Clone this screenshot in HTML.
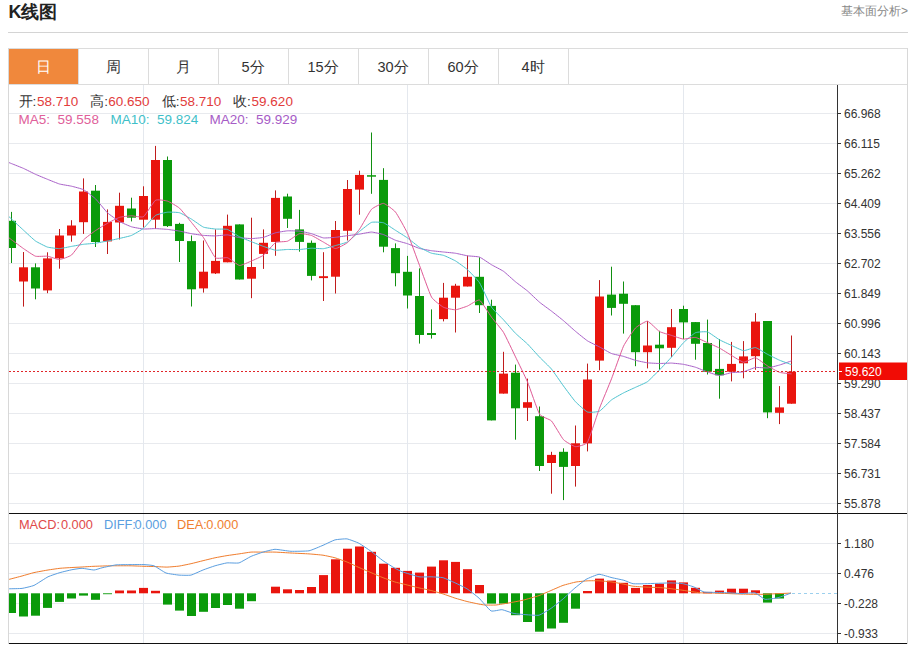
<!DOCTYPE html>
<html><head><meta charset="utf-8"><style>
html,body{margin:0;padding:0;background:#fff;}
body{width:912px;height:646px;overflow:hidden;position:relative;font-family:"Liberation Sans",sans-serif;}
svg{position:absolute;left:0;top:0;}
text{font-family:"Liberation Sans",sans-serif;}
.ax{font-family:"Liberation Sans",sans-serif;font-size:12px;fill:#333;}
.t{position:absolute;white-space:nowrap;}
#title{left:8.5px;top:0.3px;font-size:18px;font-weight:bold;color:#222;}
#more{right:4px;top:3px;font-size:12px;color:#888;}
.tab{position:absolute;top:49.5px;height:35px;width:70px;line-height:35px;text-align:center;font-size:14.5px;color:#333;}
#info1{left:19px;top:92px;font-size:13px;color:#333;}
#info2{left:19px;top:110px;font-size:13px;}
#macdl{left:19px;top:516px;font-size:12.5px;}
.r{color:#e23a3a}
</style></head><body>
<svg width="912" height="646" viewBox="0 0 912 646" shape-rendering="auto">
<line x1="8" y1="32.5" x2="908" y2="32.5" stroke="#d4d4d4" stroke-width="1"/>
<rect x="9" y="49" width="69" height="35" fill="#f0883c"/>
<line x1="8" y1="48.5" x2="908" y2="48.5" stroke="#dcdcdc"/>
<line x1="78.5" y1="49" x2="78.5" y2="84" stroke="#dcdcdc"/>
<line x1="148.5" y1="49" x2="148.5" y2="84" stroke="#dcdcdc"/>
<line x1="218.5" y1="49" x2="218.5" y2="84" stroke="#dcdcdc"/>
<line x1="288.5" y1="49" x2="288.5" y2="84" stroke="#dcdcdc"/>
<line x1="358.5" y1="49" x2="358.5" y2="84" stroke="#dcdcdc"/>
<line x1="428.5" y1="49" x2="428.5" y2="84" stroke="#dcdcdc"/>
<line x1="498.5" y1="49" x2="498.5" y2="84" stroke="#dcdcdc"/>
<line x1="568.5" y1="49" x2="568.5" y2="84" stroke="#dcdcdc"/>
<line x1="8" y1="84.5" x2="908" y2="84.5" stroke="#dcdcdc"/>
<line x1="8.5" y1="48" x2="8.5" y2="644" stroke="#d8d8d8"/>
<line x1="907.5" y1="48" x2="907.5" y2="644" stroke="#d8d8d8"/>
<line x1="9" y1="113.5" x2="837" y2="113.5" stroke="#e8eaee"/>
<line x1="9" y1="143.5" x2="837" y2="143.5" stroke="#e8eaee"/>
<line x1="9" y1="173.5" x2="837" y2="173.5" stroke="#e8eaee"/>
<line x1="9" y1="203.5" x2="837" y2="203.5" stroke="#e8eaee"/>
<line x1="9" y1="233.5" x2="837" y2="233.5" stroke="#e8eaee"/>
<line x1="9" y1="263.5" x2="837" y2="263.5" stroke="#e8eaee"/>
<line x1="9" y1="293.5" x2="837" y2="293.5" stroke="#e8eaee"/>
<line x1="9" y1="323.5" x2="837" y2="323.5" stroke="#e8eaee"/>
<line x1="9" y1="353.5" x2="837" y2="353.5" stroke="#e8eaee"/>
<line x1="9" y1="383.5" x2="837" y2="383.5" stroke="#e8eaee"/>
<line x1="9" y1="413.5" x2="837" y2="413.5" stroke="#e8eaee"/>
<line x1="9" y1="443.5" x2="837" y2="443.5" stroke="#e8eaee"/>
<line x1="9" y1="473.5" x2="837" y2="473.5" stroke="#e8eaee"/>
<line x1="9" y1="503.5" x2="837" y2="503.5" stroke="#e8eaee"/>
<line x1="9" y1="543.5" x2="837" y2="543.5" stroke="#e8eaee"/>
<line x1="9" y1="573.5" x2="837" y2="573.5" stroke="#e8eaee"/>
<line x1="9" y1="603.5" x2="837" y2="603.5" stroke="#e8eaee"/>
<line x1="9" y1="633.5" x2="837" y2="633.5" stroke="#e8eaee"/>
<line x1="143.5" y1="85" x2="143.5" y2="643" stroke="#e4e8ee"/>
<line x1="407.5" y1="85" x2="407.5" y2="643" stroke="#e4e8ee"/>
<line x1="683.5" y1="85" x2="683.5" y2="643" stroke="#e4e8ee"/>
<defs><clipPath id="cm"><rect x="9" y="85" width="828" height="428"/></clipPath><clipPath id="cd"><rect x="9" y="514" width="828" height="129"/></clipPath></defs>
<g clip-path="url(#cm)">
<line x1="11.5" y1="211.9" x2="11.5" y2="263.0" stroke="#118f11" stroke-width="1"/>
<rect x="7.0" y="220.8" width="9" height="27.2" fill="#0a9a0a"/>
<line x1="23.5" y1="252.0" x2="23.5" y2="306.6" stroke="#c01c1c" stroke-width="1"/>
<rect x="19.0" y="267.3" width="9" height="14.2" fill="#e9150e"/>
<line x1="35.5" y1="263.4" x2="35.5" y2="299.3" stroke="#118f11" stroke-width="1"/>
<rect x="31.0" y="267.3" width="9" height="21.2" fill="#0a9a0a"/>
<line x1="47.5" y1="252.3" x2="47.5" y2="293.2" stroke="#c01c1c" stroke-width="1"/>
<rect x="43.0" y="258.4" width="9" height="32.0" fill="#e9150e"/>
<line x1="59.5" y1="229.0" x2="59.5" y2="268.7" stroke="#c01c1c" stroke-width="1"/>
<rect x="55.0" y="235.5" width="9" height="22.9" fill="#e9150e"/>
<line x1="71.5" y1="220.2" x2="71.5" y2="241.7" stroke="#c01c1c" stroke-width="1"/>
<rect x="67.0" y="225.5" width="9" height="10.0" fill="#e9150e"/>
<line x1="83.5" y1="178.4" x2="83.5" y2="233.9" stroke="#c01c1c" stroke-width="1"/>
<rect x="79.0" y="191.5" width="9" height="30.7" fill="#e9150e"/>
<line x1="95.5" y1="185.0" x2="95.5" y2="247.0" stroke="#118f11" stroke-width="1"/>
<rect x="91.0" y="190.7" width="9" height="51.3" fill="#0a9a0a"/>
<line x1="107.5" y1="209.4" x2="107.5" y2="254.0" stroke="#c01c1c" stroke-width="1"/>
<rect x="103.0" y="221.9" width="9" height="19.5" fill="#e9150e"/>
<line x1="119.5" y1="192.7" x2="119.5" y2="239.5" stroke="#c01c1c" stroke-width="1"/>
<rect x="115.0" y="205.8" width="9" height="16.7" fill="#e9150e"/>
<line x1="131.5" y1="197.7" x2="131.5" y2="221.4" stroke="#118f11" stroke-width="1"/>
<rect x="127.0" y="208.5" width="9" height="9.2" fill="#0a9a0a"/>
<line x1="143.5" y1="186.3" x2="143.5" y2="227.5" stroke="#c01c1c" stroke-width="1"/>
<rect x="139.0" y="196.0" width="9" height="23.7" fill="#e9150e"/>
<line x1="155.5" y1="145.9" x2="155.5" y2="228.9" stroke="#c01c1c" stroke-width="1"/>
<rect x="151.0" y="160.0" width="9" height="59.7" fill="#e9150e"/>
<line x1="167.5" y1="156.5" x2="167.5" y2="227.0" stroke="#118f11" stroke-width="1"/>
<rect x="163.0" y="160.0" width="9" height="66.1" fill="#0a9a0a"/>
<line x1="179.5" y1="222.8" x2="179.5" y2="262.0" stroke="#118f11" stroke-width="1"/>
<rect x="175.0" y="223.9" width="9" height="17.1" fill="#0a9a0a"/>
<line x1="191.5" y1="235.5" x2="191.5" y2="306.5" stroke="#118f11" stroke-width="1"/>
<rect x="187.0" y="241.1" width="9" height="48.2" fill="#0a9a0a"/>
<line x1="203.5" y1="240.5" x2="203.5" y2="292.6" stroke="#c01c1c" stroke-width="1"/>
<rect x="199.0" y="271.7" width="9" height="16.7" fill="#e9150e"/>
<line x1="215.5" y1="229.4" x2="215.5" y2="274.0" stroke="#c01c1c" stroke-width="1"/>
<rect x="211.0" y="260.9" width="9" height="12.5" fill="#e9150e"/>
<line x1="227.5" y1="214.6" x2="227.5" y2="262.3" stroke="#c01c1c" stroke-width="1"/>
<rect x="223.0" y="225.8" width="9" height="36.5" fill="#e9150e"/>
<line x1="239.5" y1="224.4" x2="239.5" y2="279.5" stroke="#118f11" stroke-width="1"/>
<rect x="235.0" y="224.4" width="9" height="55.1" fill="#0a9a0a"/>
<line x1="251.5" y1="217.7" x2="251.5" y2="298.2" stroke="#c01c1c" stroke-width="1"/>
<rect x="247.0" y="267.0" width="9" height="11.7" fill="#e9150e"/>
<line x1="263.5" y1="229.4" x2="263.5" y2="268.9" stroke="#c01c1c" stroke-width="1"/>
<rect x="259.0" y="242.8" width="9" height="11.1" fill="#e9150e"/>
<line x1="275.5" y1="190.4" x2="275.5" y2="255.8" stroke="#c01c1c" stroke-width="1"/>
<rect x="271.0" y="197.9" width="9" height="44.0" fill="#e9150e"/>
<line x1="287.5" y1="193.7" x2="287.5" y2="228.0" stroke="#118f11" stroke-width="1"/>
<rect x="283.0" y="196.5" width="9" height="22.3" fill="#0a9a0a"/>
<line x1="299.5" y1="209.9" x2="299.5" y2="251.7" stroke="#118f11" stroke-width="1"/>
<rect x="295.0" y="229.4" width="9" height="12.5" fill="#0a9a0a"/>
<line x1="311.5" y1="240.5" x2="311.5" y2="280.4" stroke="#118f11" stroke-width="1"/>
<rect x="307.0" y="242.8" width="9" height="33.1" fill="#0a9a0a"/>
<line x1="323.5" y1="252.2" x2="323.5" y2="301.0" stroke="#c01c1c" stroke-width="1"/>
<rect x="319.0" y="276.2" width="9" height="1.9" fill="#e9150e"/>
<line x1="335.5" y1="221.0" x2="335.5" y2="293.5" stroke="#c01c1c" stroke-width="1"/>
<rect x="331.0" y="230.0" width="9" height="46.7" fill="#e9150e"/>
<line x1="347.5" y1="180.0" x2="347.5" y2="240.5" stroke="#c01c1c" stroke-width="1"/>
<rect x="343.0" y="189.0" width="9" height="41.8" fill="#e9150e"/>
<line x1="359.5" y1="170.7" x2="359.5" y2="214.7" stroke="#c01c1c" stroke-width="1"/>
<rect x="355.0" y="174.9" width="9" height="14.7" fill="#e9150e"/>
<line x1="371.5" y1="132.5" x2="371.5" y2="193.8" stroke="#118f11" stroke-width="1"/>
<rect x="367.0" y="175.2" width="9" height="1.5" fill="#0a9a0a"/>
<line x1="383.5" y1="168.2" x2="383.5" y2="252.3" stroke="#118f11" stroke-width="1"/>
<rect x="379.0" y="179.9" width="9" height="66.8" fill="#0a9a0a"/>
<line x1="395.5" y1="243.4" x2="395.5" y2="286.3" stroke="#118f11" stroke-width="1"/>
<rect x="391.0" y="248.1" width="9" height="25.1" fill="#0a9a0a"/>
<line x1="407.5" y1="255.9" x2="407.5" y2="308.5" stroke="#118f11" stroke-width="1"/>
<rect x="403.0" y="271.8" width="9" height="23.7" fill="#0a9a0a"/>
<line x1="419.5" y1="268.4" x2="419.5" y2="343.6" stroke="#118f11" stroke-width="1"/>
<rect x="415.0" y="296.0" width="9" height="39.0" fill="#0a9a0a"/>
<line x1="431.5" y1="309.4" x2="431.5" y2="338.6" stroke="#118f11" stroke-width="1"/>
<rect x="427.0" y="333.0" width="9" height="2.0" fill="#0a9a0a"/>
<line x1="443.5" y1="282.9" x2="443.5" y2="321.4" stroke="#c01c1c" stroke-width="1"/>
<rect x="439.0" y="297.7" width="9" height="21.4" fill="#e9150e"/>
<line x1="455.5" y1="283.8" x2="455.5" y2="332.5" stroke="#c01c1c" stroke-width="1"/>
<rect x="451.0" y="285.7" width="9" height="12.0" fill="#e9150e"/>
<line x1="467.5" y1="255.6" x2="467.5" y2="286.5" stroke="#c01c1c" stroke-width="1"/>
<rect x="463.0" y="276.8" width="9" height="9.7" fill="#e9150e"/>
<line x1="479.5" y1="257.3" x2="479.5" y2="313.0" stroke="#118f11" stroke-width="1"/>
<rect x="475.0" y="276.8" width="9" height="28.4" fill="#0a9a0a"/>
<line x1="491.5" y1="299.7" x2="491.5" y2="420.4" stroke="#118f11" stroke-width="1"/>
<rect x="487.0" y="305.9" width="9" height="114.5" fill="#0a9a0a"/>
<line x1="503.5" y1="351.8" x2="503.5" y2="393.6" stroke="#c01c1c" stroke-width="1"/>
<rect x="499.0" y="373.6" width="9" height="20.0" fill="#e9150e"/>
<line x1="515.5" y1="364.6" x2="515.5" y2="439.7" stroke="#118f11" stroke-width="1"/>
<rect x="511.0" y="372.7" width="9" height="35.6" fill="#0a9a0a"/>
<line x1="527.5" y1="378.6" x2="527.5" y2="421.0" stroke="#c01c1c" stroke-width="1"/>
<rect x="523.0" y="402.2" width="9" height="5.6" fill="#e9150e"/>
<line x1="539.5" y1="406.5" x2="539.5" y2="471.0" stroke="#118f11" stroke-width="1"/>
<rect x="535.0" y="416.2" width="9" height="49.8" fill="#0a9a0a"/>
<line x1="551.5" y1="451.8" x2="551.5" y2="493.7" stroke="#c01c1c" stroke-width="1"/>
<rect x="547.0" y="454.9" width="9" height="8.1" fill="#e9150e"/>
<line x1="563.5" y1="448.3" x2="563.5" y2="500.1" stroke="#118f11" stroke-width="1"/>
<rect x="559.0" y="451.8" width="9" height="15.1" fill="#0a9a0a"/>
<line x1="575.5" y1="425.5" x2="575.5" y2="486.6" stroke="#c01c1c" stroke-width="1"/>
<rect x="571.0" y="443.3" width="9" height="22.7" fill="#e9150e"/>
<line x1="587.5" y1="363.6" x2="587.5" y2="451.4" stroke="#c01c1c" stroke-width="1"/>
<rect x="583.0" y="379.5" width="9" height="63.9" fill="#e9150e"/>
<line x1="599.5" y1="280.1" x2="599.5" y2="370.3" stroke="#c01c1c" stroke-width="1"/>
<rect x="595.0" y="296.5" width="9" height="64.1" fill="#e9150e"/>
<line x1="611.5" y1="266.7" x2="611.5" y2="315.5" stroke="#118f11" stroke-width="1"/>
<rect x="607.0" y="294.6" width="9" height="13.3" fill="#0a9a0a"/>
<line x1="623.5" y1="281.5" x2="623.5" y2="333.6" stroke="#118f11" stroke-width="1"/>
<rect x="619.0" y="293.7" width="9" height="10.1" fill="#0a9a0a"/>
<line x1="635.5" y1="305.2" x2="635.5" y2="366.2" stroke="#118f11" stroke-width="1"/>
<rect x="631.0" y="305.2" width="9" height="47.0" fill="#0a9a0a"/>
<line x1="647.5" y1="321.0" x2="647.5" y2="368.4" stroke="#c01c1c" stroke-width="1"/>
<rect x="643.0" y="345.5" width="9" height="6.7" fill="#e9150e"/>
<line x1="659.5" y1="330.8" x2="659.5" y2="369.8" stroke="#118f11" stroke-width="1"/>
<rect x="655.0" y="344.7" width="9" height="3.6" fill="#0a9a0a"/>
<line x1="671.5" y1="309.0" x2="671.5" y2="357.0" stroke="#c01c1c" stroke-width="1"/>
<rect x="667.0" y="327.2" width="9" height="20.6" fill="#e9150e"/>
<line x1="683.5" y1="305.7" x2="683.5" y2="339.0" stroke="#118f11" stroke-width="1"/>
<rect x="679.0" y="309.0" width="9" height="13.4" fill="#0a9a0a"/>
<line x1="695.5" y1="322.1" x2="695.5" y2="359.7" stroke="#118f11" stroke-width="1"/>
<rect x="691.0" y="322.1" width="9" height="21.7" fill="#0a9a0a"/>
<line x1="707.5" y1="319.6" x2="707.5" y2="374.5" stroke="#118f11" stroke-width="1"/>
<rect x="703.0" y="343.0" width="9" height="28.7" fill="#0a9a0a"/>
<line x1="719.5" y1="339.0" x2="719.5" y2="398.7" stroke="#118f11" stroke-width="1"/>
<rect x="715.0" y="368.9" width="9" height="6.4" fill="#0a9a0a"/>
<line x1="731.5" y1="341.9" x2="731.5" y2="381.4" stroke="#c01c1c" stroke-width="1"/>
<rect x="727.0" y="363.9" width="9" height="7.8" fill="#e9150e"/>
<line x1="743.5" y1="341.1" x2="743.5" y2="378.3" stroke="#c01c1c" stroke-width="1"/>
<rect x="739.0" y="356.4" width="9" height="6.9" fill="#e9150e"/>
<line x1="755.5" y1="313.1" x2="755.5" y2="369.8" stroke="#c01c1c" stroke-width="1"/>
<rect x="751.0" y="321.6" width="9" height="34.6" fill="#e9150e"/>
<line x1="767.5" y1="321.0" x2="767.5" y2="418.2" stroke="#118f11" stroke-width="1"/>
<rect x="763.0" y="321.0" width="9" height="91.4" fill="#0a9a0a"/>
<line x1="779.5" y1="386.1" x2="779.5" y2="424.1" stroke="#c01c1c" stroke-width="1"/>
<rect x="775.0" y="407.4" width="9" height="5.4" fill="#e9150e"/>
<line x1="791.5" y1="335.5" x2="791.5" y2="403.7" stroke="#c01c1c" stroke-width="1"/>
<rect x="787.0" y="371.7" width="9" height="32.0" fill="#e9150e"/>
<g fill="none" stroke-width="1" stroke-linejoin="round">
<path d="M-0.50,158.80 C0.34,159.14 9.82,162.93 11.50,163.60 C13.18,164.27 21.82,167.65 23.50,168.40 C25.18,169.15 33.82,173.54 35.50,174.30 C37.18,175.06 45.82,178.62 47.50,179.30 C49.18,179.98 57.82,183.52 59.50,184.00 C61.18,184.48 69.82,185.80 71.50,186.20 C73.18,186.60 81.82,188.82 83.50,189.70 C85.18,190.58 93.82,197.18 95.50,198.80 C97.18,200.42 105.82,211.21 107.50,212.80 C109.18,214.39 117.82,220.52 119.50,221.50 C121.18,222.48 129.82,226.28 131.50,226.80 C133.18,227.33 141.82,228.87 143.50,229.00 C145.18,229.13 153.82,228.57 155.50,228.60 C157.18,228.63 165.82,229.22 167.50,229.40 C169.18,229.58 177.82,230.80 179.50,231.10 C181.18,231.40 189.82,233.40 191.50,233.70 C193.18,234.00 201.82,235.25 203.50,235.40 C205.18,235.55 213.82,235.94 215.50,235.90 C217.18,235.87 225.82,234.78 227.50,234.90 C229.18,235.02 237.82,237.36 239.50,237.62 C241.18,237.88 249.82,238.59 251.50,238.57 C253.18,238.55 261.82,237.75 263.50,237.34 C265.18,236.94 273.82,233.27 275.50,232.81 C277.18,232.36 285.82,230.95 287.50,230.83 C289.18,230.72 297.82,230.96 299.50,231.16 C301.18,231.35 309.82,233.20 311.50,233.68 C313.18,234.15 321.82,237.66 323.50,237.91 C325.18,238.16 333.82,237.47 335.50,237.31 C337.18,237.15 345.82,235.89 347.50,235.67 C349.18,235.44 357.82,234.37 359.50,234.12 C361.18,233.87 369.82,232.03 371.50,232.06 C373.18,232.09 381.82,234.02 383.50,234.59 C385.18,235.17 393.82,239.62 395.50,240.26 C397.18,240.89 405.82,243.15 407.50,243.72 C409.18,244.30 417.82,247.94 419.50,248.43 C421.18,248.91 429.82,250.46 431.50,250.71 C433.18,250.96 441.82,251.83 443.50,252.01 C445.18,252.19 453.82,252.98 455.50,253.25 C457.18,253.52 465.82,255.53 467.50,255.80 C469.18,256.07 477.82,256.46 479.50,257.08 C481.18,257.71 489.82,263.76 491.50,264.75 C493.18,265.75 501.82,270.10 503.50,271.29 C505.18,272.49 513.82,280.44 515.50,281.81 C517.18,283.19 525.82,289.56 527.50,290.99 C529.18,292.41 537.82,300.78 539.50,302.19 C541.18,303.60 549.82,309.85 551.50,311.14 C553.18,312.43 561.82,319.26 563.50,320.68 C565.18,322.09 573.82,329.93 575.50,331.34 C577.18,332.75 585.82,339.77 587.50,340.87 C589.18,341.96 597.82,346.06 599.50,346.94 C601.18,347.83 609.82,352.86 611.50,353.51 C613.18,354.17 621.82,355.89 623.50,356.37 C625.18,356.85 633.82,359.87 635.50,360.32 C637.18,360.77 645.82,362.60 647.50,362.82 C649.18,363.04 657.82,363.47 659.50,363.49 C661.18,363.50 669.82,363.04 671.50,363.09 C673.18,363.15 681.82,364.04 683.50,364.33 C685.18,364.62 693.82,366.70 695.50,367.24 C697.18,367.77 705.82,371.40 707.50,371.98 C709.18,372.56 717.82,375.44 719.50,375.49 C721.18,375.53 729.82,372.92 731.50,372.66 C733.18,372.40 741.82,372.16 743.50,371.80 C745.18,371.44 753.82,367.73 755.50,367.47 C757.18,367.20 765.82,368.14 767.50,367.98 C769.18,367.81 777.82,365.54 779.50,365.04 C781.18,364.55 790.66,361.18 791.50,360.88" stroke="#a85fc8"/>
<path d="M-0.50,207.80 C0.34,208.58 9.82,217.43 11.50,219.00 C13.18,220.57 21.82,228.66 23.50,230.20 C25.18,231.74 33.82,239.82 35.50,241.00 C37.18,242.18 45.82,246.57 47.50,247.10 C49.18,247.63 57.82,248.65 59.50,248.60 C61.18,248.55 69.82,246.70 71.50,246.40 C73.18,246.10 81.82,244.52 83.50,244.30 C85.18,244.08 93.82,243.43 95.50,243.20 C97.18,242.97 105.82,241.33 107.50,241.00 C109.18,240.67 117.82,238.83 119.50,238.44 C121.18,238.05 129.82,236.12 131.50,235.41 C133.18,234.70 141.82,229.68 143.50,228.28 C145.18,226.88 153.82,216.56 155.50,215.43 C157.18,214.30 165.82,212.39 167.50,212.20 C169.18,212.01 177.82,212.26 179.50,212.75 C181.18,213.24 189.82,218.12 191.50,219.13 C193.18,220.14 201.82,226.46 203.50,227.15 C205.18,227.84 213.82,228.88 215.50,229.04 C217.18,229.20 225.82,228.89 227.50,229.43 C229.18,229.97 237.82,235.94 239.50,236.80 C241.18,237.66 249.82,241.06 251.50,241.73 C253.18,242.40 261.82,245.82 263.50,246.41 C265.18,247.00 273.82,249.99 275.50,250.20 C277.18,250.41 285.82,249.51 287.50,249.47 C289.18,249.43 297.82,249.65 299.50,249.56 C301.18,249.47 309.82,248.28 311.50,248.22 C313.18,248.16 321.82,248.85 323.50,248.67 C325.18,248.49 333.82,246.05 335.50,245.58 C337.18,245.11 345.82,242.89 347.50,241.90 C349.18,240.91 357.82,232.81 359.50,231.44 C361.18,230.07 369.82,223.00 371.50,222.39 C373.18,221.78 381.82,222.23 383.50,222.78 C385.18,223.33 393.82,229.25 395.50,230.31 C397.18,231.37 405.82,236.79 407.50,237.98 C409.18,239.17 417.82,246.22 419.50,247.29 C421.18,248.36 429.82,252.64 431.50,253.20 C433.18,253.76 441.82,254.81 443.50,255.35 C445.18,255.89 453.82,259.92 455.50,260.92 C457.18,261.92 465.82,268.17 467.50,269.70 C469.18,271.23 477.82,280.11 479.50,282.73 C481.18,285.35 489.82,304.52 491.50,307.12 C493.18,309.72 501.82,317.98 503.50,319.81 C505.18,321.64 513.82,331.63 515.50,333.32 C517.18,335.01 525.82,342.33 527.50,343.99 C529.18,345.65 537.82,355.33 539.50,357.09 C541.18,358.85 549.82,367.06 551.50,369.08 C553.18,371.10 561.82,383.71 563.50,386.00 C565.18,388.29 573.82,399.94 575.50,401.76 C577.18,403.58 585.82,411.37 587.50,412.03 C589.18,412.69 597.82,412.01 599.50,411.16 C601.18,410.31 609.82,401.19 611.50,399.91 C613.18,398.63 621.82,393.81 623.50,392.93 C625.18,392.05 633.82,388.11 635.50,387.32 C637.18,386.53 645.82,382.87 647.50,381.65 C649.18,380.43 657.82,371.60 659.50,369.88 C661.18,368.16 669.82,359.02 671.50,357.11 C673.18,355.20 681.82,344.37 683.50,342.66 C685.18,340.95 693.82,333.46 695.50,332.71 C697.18,331.96 705.82,331.43 707.50,331.93 C709.18,332.43 717.82,338.87 719.50,339.81 C721.18,340.75 729.82,344.65 731.50,345.41 C733.18,346.17 741.82,350.52 743.50,350.67 C745.18,350.82 753.82,347.36 755.50,347.61 C757.18,347.86 765.82,353.42 767.50,354.30 C769.18,355.18 777.82,359.48 779.50,360.21 C781.18,360.94 790.66,364.35 791.50,364.66" stroke="#4cc3cf"/>
<path d="M-0.50,230.80 C0.34,231.42 9.82,238.45 11.50,239.70 C13.18,240.95 21.82,247.44 23.50,248.60 C25.18,249.75 33.82,255.67 35.50,256.20 C37.18,256.73 45.82,255.97 47.50,256.20 C49.18,256.43 57.82,259.62 59.50,259.54 C61.18,259.46 69.82,256.42 71.50,255.04 C73.18,253.66 81.82,241.59 83.50,239.88 C85.18,238.17 93.82,231.74 95.50,230.58 C97.18,229.42 105.82,224.21 107.50,223.28 C109.18,222.35 117.82,217.87 119.50,217.34 C121.18,216.81 129.82,215.83 131.50,215.78 C133.18,215.73 141.82,217.77 143.50,216.68 C145.18,215.59 153.82,201.37 155.50,200.28 C157.18,199.19 165.82,200.57 167.50,201.12 C169.18,201.67 177.82,206.66 179.50,208.16 C181.18,209.66 189.82,220.42 191.50,222.48 C193.18,224.54 201.82,235.15 203.50,237.62 C205.18,240.09 213.82,256.39 215.50,257.80 C217.18,259.21 225.82,257.21 227.50,257.74 C229.18,258.27 237.82,265.21 239.50,265.44 C241.18,265.67 249.82,261.70 251.50,260.98 C253.18,260.26 261.82,256.49 263.50,255.20 C265.18,253.91 273.82,243.58 275.50,242.60 C277.18,241.62 285.82,241.82 287.50,241.20 C289.18,240.58 297.82,234.08 299.50,233.68 C301.18,233.28 309.82,234.87 311.50,235.46 C313.18,236.05 321.82,241.22 323.50,242.14 C325.18,243.06 333.82,248.53 335.50,248.56 C337.18,248.59 345.82,243.96 347.50,242.60 C349.18,241.24 357.82,231.53 359.50,229.20 C361.18,226.87 369.82,211.12 371.50,209.32 C373.18,207.52 381.82,203.23 383.50,203.42 C385.18,203.61 393.82,209.96 395.50,212.06 C397.18,214.16 405.82,229.63 407.50,233.36 C409.18,237.09 417.82,260.92 419.50,265.38 C421.18,269.84 429.82,294.15 431.50,297.08 C433.18,300.01 441.82,306.39 443.50,307.28 C445.18,308.17 453.82,309.87 455.50,309.78 C457.18,309.69 465.82,306.72 467.50,306.04 C469.18,305.36 477.82,299.30 479.50,300.08 C481.18,300.86 489.82,314.90 491.50,317.16 C493.18,319.42 501.82,329.56 503.50,332.34 C505.18,335.12 513.82,353.39 515.50,356.86 C517.18,360.33 525.82,377.93 527.50,381.94 C529.18,385.95 537.82,411.37 539.50,414.10 C541.18,416.83 549.82,419.21 551.50,421.00 C553.18,422.79 561.82,437.86 563.50,439.66 C565.18,441.46 573.82,446.49 575.50,446.66 C577.18,446.83 585.82,444.81 587.50,442.12 C589.18,439.43 597.82,412.65 599.50,408.22 C601.18,403.79 609.82,383.16 611.50,378.82 C613.18,374.48 621.82,349.76 623.50,346.20 C625.18,342.64 633.82,329.73 635.50,327.98 C637.18,326.23 645.82,320.93 647.50,321.18 C649.18,321.43 657.82,330.54 659.50,331.54 C661.18,332.54 669.82,334.87 671.50,335.40 C673.18,335.93 681.82,338.98 683.50,339.12 C685.18,339.26 693.82,337.19 695.50,337.44 C697.18,337.69 705.82,341.94 707.50,342.68 C709.18,343.42 717.82,347.19 719.50,348.08 C721.18,348.97 729.82,354.43 731.50,355.42 C733.18,356.41 741.82,362.05 743.50,362.22 C745.18,362.39 753.82,357.52 755.50,357.78 C757.18,358.04 765.82,364.90 767.50,365.92 C769.18,366.94 777.82,371.78 779.50,372.34 C781.18,372.90 790.66,373.79 791.50,373.90" stroke="#df5a96"/>
</g>
</g>
<line x1="9" y1="371.5" x2="837" y2="371.5" stroke="#e0262a" stroke-dasharray="2,2"/>
<g clip-path="url(#cd)">
<rect x="7.0" y="593.3" width="9" height="19.7" fill="#0a9a0a"/>
<rect x="19.0" y="593.3" width="9" height="23.2" fill="#0a9a0a"/>
<rect x="31.0" y="593.3" width="9" height="22.4" fill="#0a9a0a"/>
<rect x="43.0" y="593.3" width="9" height="14.6" fill="#0a9a0a"/>
<rect x="55.0" y="593.3" width="9" height="8.6" fill="#0a9a0a"/>
<rect x="67.0" y="593.3" width="9" height="5.2" fill="#0a9a0a"/>
<rect x="79.0" y="593.3" width="9" height="2.3" fill="#0a9a0a"/>
<rect x="91.0" y="593.3" width="9" height="6.5" fill="#0a9a0a"/>
<rect x="103.0" y="593.3" width="9" height="0.9" fill="#0a9a0a"/>
<rect x="115.0" y="590.5" width="9" height="2.8" fill="#e9150e"/>
<rect x="127.0" y="590.5" width="9" height="2.8" fill="#e9150e"/>
<rect x="139.0" y="587.9" width="9" height="5.4" fill="#e9150e"/>
<rect x="151.0" y="590.8" width="9" height="2.5" fill="#e9150e"/>
<rect x="163.0" y="593.3" width="9" height="11.3" fill="#0a9a0a"/>
<rect x="175.0" y="593.3" width="9" height="17.3" fill="#0a9a0a"/>
<rect x="187.0" y="593.3" width="9" height="22.7" fill="#0a9a0a"/>
<rect x="199.0" y="593.3" width="9" height="18.5" fill="#0a9a0a"/>
<rect x="211.0" y="593.3" width="9" height="14.7" fill="#0a9a0a"/>
<rect x="223.0" y="593.3" width="9" height="11.7" fill="#0a9a0a"/>
<rect x="235.0" y="593.3" width="9" height="15.4" fill="#0a9a0a"/>
<rect x="247.0" y="593.3" width="9" height="7.9" fill="#0a9a0a"/>
<rect x="271.0" y="586.7" width="9" height="6.6" fill="#e9150e"/>
<rect x="283.0" y="589.3" width="9" height="4.0" fill="#e9150e"/>
<rect x="295.0" y="590.0" width="9" height="3.3" fill="#e9150e"/>
<rect x="307.0" y="587.0" width="9" height="6.3" fill="#e9150e"/>
<rect x="319.0" y="575.1" width="9" height="18.2" fill="#e9150e"/>
<rect x="331.0" y="559.3" width="9" height="34.0" fill="#e9150e"/>
<rect x="343.0" y="548.7" width="9" height="44.6" fill="#e9150e"/>
<rect x="355.0" y="546.5" width="9" height="46.8" fill="#e9150e"/>
<rect x="367.0" y="551.8" width="9" height="41.5" fill="#e9150e"/>
<rect x="379.0" y="563.7" width="9" height="29.6" fill="#e9150e"/>
<rect x="391.0" y="567.8" width="9" height="25.5" fill="#e9150e"/>
<rect x="403.0" y="570.9" width="9" height="22.4" fill="#e9150e"/>
<rect x="415.0" y="572.6" width="9" height="20.7" fill="#e9150e"/>
<rect x="427.0" y="566.6" width="9" height="26.7" fill="#e9150e"/>
<rect x="439.0" y="560.3" width="9" height="33.0" fill="#e9150e"/>
<rect x="451.0" y="561.9" width="9" height="31.4" fill="#e9150e"/>
<rect x="463.0" y="569.2" width="9" height="24.1" fill="#e9150e"/>
<rect x="475.0" y="585.0" width="9" height="8.3" fill="#e9150e"/>
<rect x="487.0" y="593.3" width="9" height="10.3" fill="#0a9a0a"/>
<rect x="499.0" y="593.3" width="9" height="10.3" fill="#0a9a0a"/>
<rect x="511.0" y="593.3" width="9" height="21.9" fill="#0a9a0a"/>
<rect x="523.0" y="593.3" width="9" height="28.7" fill="#0a9a0a"/>
<rect x="535.0" y="593.3" width="9" height="38.4" fill="#0a9a0a"/>
<rect x="547.0" y="593.3" width="9" height="35.2" fill="#0a9a0a"/>
<rect x="559.0" y="593.3" width="9" height="29.5" fill="#0a9a0a"/>
<rect x="571.0" y="593.3" width="9" height="15.4" fill="#0a9a0a"/>
<rect x="583.0" y="591.0" width="9" height="2.3" fill="#e9150e"/>
<rect x="595.0" y="578.6" width="9" height="14.7" fill="#e9150e"/>
<rect x="607.0" y="580.6" width="9" height="12.7" fill="#e9150e"/>
<rect x="619.0" y="582.8" width="9" height="10.5" fill="#e9150e"/>
<rect x="631.0" y="587.9" width="9" height="5.4" fill="#e9150e"/>
<rect x="643.0" y="585.0" width="9" height="8.3" fill="#e9150e"/>
<rect x="655.0" y="583.7" width="9" height="9.6" fill="#e9150e"/>
<rect x="667.0" y="580.4" width="9" height="12.9" fill="#e9150e"/>
<rect x="679.0" y="582.4" width="9" height="10.9" fill="#e9150e"/>
<rect x="691.0" y="587.8" width="9" height="5.5" fill="#e9150e"/>
<rect x="703.0" y="591.9" width="9" height="1.4" fill="#e9150e"/>
<rect x="715.0" y="590.6" width="9" height="2.7" fill="#e9150e"/>
<rect x="727.0" y="588.7" width="9" height="4.6" fill="#e9150e"/>
<rect x="739.0" y="588.7" width="9" height="4.6" fill="#e9150e"/>
<rect x="751.0" y="590.3" width="9" height="3.0" fill="#e9150e"/>
<rect x="763.0" y="593.3" width="9" height="9.3" fill="#0a9a0a"/>
<rect x="775.0" y="593.3" width="9" height="5.2" fill="#0a9a0a"/>
<g fill="none" stroke-width="1" stroke-linejoin="round">
<path d="M9.00,579.40 C9.91,579.16 20.25,576.48 22.00,576.00 C23.75,575.52 32.18,573.02 34.00,572.60 C35.82,572.18 46.18,570.30 48.00,570.00 C49.82,569.70 58.32,568.47 60.00,568.30 C61.68,568.12 70.46,567.59 72.00,567.50 C73.54,567.41 80.46,567.08 82.00,567.00 C83.54,566.92 91.97,566.38 94.00,566.30 C96.03,566.22 108.48,565.83 111.00,565.80 C113.52,565.76 127.69,565.76 130.00,565.80 C132.31,565.83 142.18,566.24 144.00,566.30 C145.82,566.36 154.39,566.54 156.00,566.60 C157.61,566.66 165.39,567.13 167.00,567.10 C168.61,567.07 177.32,566.34 179.00,566.10 C180.68,565.86 189.32,564.08 191.00,563.70 C192.68,563.32 201.32,561.11 203.00,560.70 C204.68,560.29 213.32,558.16 215.00,557.80 C216.68,557.44 225.32,555.87 227.00,555.60 C228.68,555.33 237.32,554.14 239.00,553.90 C240.68,553.65 249.32,552.23 251.00,552.10 C252.68,551.97 261.32,552.10 263.00,552.10 C264.68,552.10 273.04,552.04 275.00,552.10 C276.96,552.16 288.62,552.87 291.00,553.00 C293.38,553.13 306.76,553.75 309.00,553.90 C311.24,554.05 321.18,554.93 323.00,555.20 C324.82,555.47 333.32,557.32 335.00,557.80 C336.68,558.28 345.32,561.32 347.00,562.00 C348.68,562.68 357.32,566.76 359.00,567.50 C360.68,568.24 369.32,571.89 371.00,572.60 C372.68,573.31 381.32,577.04 383.00,577.70 C384.68,578.36 393.67,581.58 395.00,582.00 C396.33,582.42 400.32,583.29 402.00,583.70 C403.68,584.11 416.97,587.42 419.00,587.90 C421.03,588.38 429.32,590.08 431.00,590.50 C432.68,590.92 441.32,593.37 443.00,593.90 C444.68,594.43 453.32,597.57 455.00,598.10 C456.68,598.63 465.32,601.08 467.00,601.50 C468.68,601.92 477.74,603.86 479.00,604.10 C480.26,604.35 483.81,604.94 485.00,605.00 C486.19,605.06 494.32,605.15 496.00,605.00 C497.68,604.85 507.11,603.24 509.00,602.90 C510.89,602.56 520.90,600.71 523.00,600.20 C525.10,599.69 537.04,596.28 539.00,595.60 C540.96,594.92 549.32,591.21 551.00,590.50 C552.68,589.79 561.25,586.00 563.00,585.40 C564.75,584.80 574.25,582.32 576.00,582.00 C577.75,581.68 586.39,580.88 588.00,580.80 C589.61,580.72 597.32,580.72 599.00,580.80 C600.68,580.88 610.25,581.76 612.00,582.00 C613.75,582.24 622.53,583.91 624.00,584.20 C625.47,584.49 631.46,586.00 633.00,586.20 C634.54,586.40 644.11,587.00 646.00,587.10 C647.89,587.20 658.25,587.49 660.00,587.60 C661.75,587.71 669.39,588.51 671.00,588.70 C672.61,588.89 680.97,590.01 683.00,590.30 C685.03,590.59 697.69,592.60 700.00,592.80 C702.31,593.00 713.06,593.01 716.00,593.10 C718.94,593.19 738.99,594.01 742.00,594.10 C745.01,594.19 757.18,594.40 759.00,594.40 C760.82,594.40 765.76,594.19 768.00,594.10 C770.24,594.01 789.39,593.17 791.00,593.10" stroke="#f07c2c"/>
<path d="M9.00,588.80 C9.91,588.77 20.25,588.64 22.00,588.40 C23.75,588.16 32.18,586.21 34.00,585.40 C35.82,584.59 46.18,577.70 48.00,576.80 C49.82,575.90 58.32,573.10 60.00,572.60 C61.68,572.10 70.46,570.00 72.00,569.70 C73.54,569.40 80.46,568.28 82.00,568.30 C83.54,568.32 92.60,570.03 94.00,570.00 C95.40,569.97 100.46,568.16 102.00,567.80 C103.54,567.44 114.04,565.12 116.00,564.90 C117.96,564.68 128.04,564.62 130.00,564.60 C131.96,564.58 142.32,564.52 144.00,564.60 C145.68,564.68 152.46,565.21 154.00,565.80 C155.54,566.39 164.25,572.35 166.00,573.00 C167.75,573.65 177.25,574.95 179.00,575.10 C180.75,575.25 189.32,575.46 191.00,575.10 C192.68,574.74 201.32,570.65 203.00,570.00 C204.68,569.35 213.32,566.30 215.00,565.80 C216.68,565.30 225.32,563.10 227.00,562.90 C228.68,562.70 237.32,563.36 239.00,562.90 C240.68,562.44 249.32,557.16 251.00,556.40 C252.68,555.64 261.32,552.60 263.00,552.10 C264.68,551.60 273.04,549.36 275.00,549.30 C276.96,549.24 288.62,551.19 291.00,551.30 C293.38,551.40 306.76,551.22 309.00,550.80 C311.24,550.38 321.18,546.06 323.00,545.30 C324.82,544.54 333.32,540.35 335.00,539.90 C336.68,539.45 345.32,538.66 347.00,538.90 C348.68,539.14 357.32,542.43 359.00,543.30 C360.68,544.17 369.32,550.08 371.00,551.30 C372.68,552.52 381.32,559.51 383.00,560.70 C384.68,561.89 393.67,567.53 395.00,568.30 C396.33,569.07 400.32,571.11 402.00,571.70 C403.68,572.30 416.97,576.44 419.00,576.80 C421.03,577.16 429.32,576.74 431.00,576.80 C432.68,576.86 441.32,577.28 443.00,577.70 C444.68,578.12 453.32,582.02 455.00,582.80 C456.68,583.58 465.32,587.73 467.00,588.80 C468.68,589.87 477.32,596.55 479.00,598.10 C480.68,599.65 489.39,610.09 491.00,610.90 C492.61,611.71 500.39,609.52 502.00,609.70 C503.61,609.88 512.32,613.15 514.00,613.50 C515.68,613.85 524.25,614.58 526.00,614.70 C527.75,614.82 537.25,615.64 539.00,615.20 C540.75,614.76 549.32,609.53 551.00,608.40 C552.68,607.27 561.39,600.37 563.00,599.00 C564.61,597.63 572.39,590.17 574.00,588.80 C575.61,587.43 584.25,580.41 586.00,579.40 C587.75,578.38 597.18,574.42 599.00,574.30 C600.82,574.18 610.25,577.28 612.00,577.70 C613.75,578.12 622.53,579.88 624.00,580.30 C625.47,580.72 631.46,583.46 633.00,583.70 C634.54,583.94 643.34,583.76 646.00,583.70 C648.66,583.64 668.41,582.90 671.00,582.90 C673.59,582.90 681.39,583.41 683.00,583.70 C684.61,583.99 692.53,586.42 694.00,587.00 C695.47,587.58 702.46,591.62 704.00,592.00 C705.54,592.38 714.25,592.34 716.00,592.40 C717.75,592.46 727.18,592.72 729.00,592.80 C730.82,592.88 740.18,593.60 742.00,593.60 C743.82,593.60 753.39,592.40 755.00,592.80 C756.61,593.20 763.39,598.96 765.00,599.30 C766.61,599.64 776.18,598.13 778.00,597.70 C779.82,597.27 790.09,593.42 791.00,593.10" stroke="#5a9ee0"/>
</g></g>
<line x1="792" y1="593.5" x2="837" y2="593.5" stroke="#9cd0ee" stroke-dasharray="3,3"/>
<line x1="9" y1="513.5" x2="907" y2="513.5" stroke="#111" stroke-width="1.2"/>
<line x1="9" y1="643.5" x2="907" y2="643.5" stroke="#111" stroke-width="1.2"/>
<line x1="837.5" y1="85" x2="837.5" y2="643" stroke="#333"/>
<line x1="837" y1="113.5" x2="841" y2="113.5" stroke="#333"/>
<text x="844" y="117.6" class="ax">66.968</text>
<line x1="837" y1="143.5" x2="841" y2="143.5" stroke="#333"/>
<text x="844" y="147.6" class="ax">66.115</text>
<line x1="837" y1="173.5" x2="841" y2="173.5" stroke="#333"/>
<text x="844" y="177.6" class="ax">65.262</text>
<line x1="837" y1="203.5" x2="841" y2="203.5" stroke="#333"/>
<text x="844" y="207.6" class="ax">64.409</text>
<line x1="837" y1="233.5" x2="841" y2="233.5" stroke="#333"/>
<text x="844" y="237.6" class="ax">63.556</text>
<line x1="837" y1="263.5" x2="841" y2="263.5" stroke="#333"/>
<text x="844" y="267.6" class="ax">62.702</text>
<line x1="837" y1="293.5" x2="841" y2="293.5" stroke="#333"/>
<text x="844" y="297.6" class="ax">61.849</text>
<line x1="837" y1="323.5" x2="841" y2="323.5" stroke="#333"/>
<text x="844" y="327.6" class="ax">60.996</text>
<line x1="837" y1="353.5" x2="841" y2="353.5" stroke="#333"/>
<text x="844" y="357.6" class="ax">60.143</text>
<line x1="837" y1="383.5" x2="841" y2="383.5" stroke="#333"/>
<text x="844" y="387.6" class="ax">59.290</text>
<line x1="837" y1="413.5" x2="841" y2="413.5" stroke="#333"/>
<text x="844" y="417.6" class="ax">58.437</text>
<line x1="837" y1="443.5" x2="841" y2="443.5" stroke="#333"/>
<text x="844" y="447.6" class="ax">57.584</text>
<line x1="837" y1="473.5" x2="841" y2="473.5" stroke="#333"/>
<text x="844" y="477.6" class="ax">56.731</text>
<line x1="837" y1="503.5" x2="841" y2="503.5" stroke="#333"/>
<text x="844" y="507.6" class="ax">55.878</text>
<line x1="837" y1="543.5" x2="841" y2="543.5" stroke="#333"/>
<text x="844" y="547.6" class="ax">1.180</text>
<line x1="837" y1="573.5" x2="841" y2="573.5" stroke="#333"/>
<text x="844" y="577.6" class="ax">0.476</text>
<line x1="837" y1="603.5" x2="841" y2="603.5" stroke="#333"/>
<text x="844" y="607.6" class="ax">-0.228</text>
<line x1="837" y1="633.5" x2="841" y2="633.5" stroke="#333"/>
<text x="844" y="637.6" class="ax">-0.933</text>
<rect x="839" y="362.5" width="68" height="17.5" fill="#f10c05"/>
<line x1="839" y1="371.5" x2="842" y2="371.5" stroke="#fff"/>
<text x="845" y="376" class="ax" fill="#fff" style="fill:#fff">59.620</text>
<text x="18.5" y="106.0" fill="#333" style="font-size:13.5px">开:</text>
<text x="37.0" y="106.0" fill="#e23c3c" style="font-size:13.5px">58.710</text>
<text x="90.2" y="106.0" fill="#333" style="font-size:13.5px">高:</text>
<text x="108.3" y="106.0" fill="#e23c3c" style="font-size:13.5px">60.650</text>
<text x="161.7" y="106.0" fill="#333" style="font-size:13.5px">低:</text>
<text x="180.0" y="106.0" fill="#e23c3c" style="font-size:13.5px">58.710</text>
<text x="233.0" y="106.0" fill="#333" style="font-size:13.5px">收:</text>
<text x="251.6" y="106.0" fill="#e23c3c" style="font-size:13.5px">59.620</text>
<text x="18.6" y="123.8" fill="#e0609a" style="font-size:13.5px">MA5:</text>
<text x="57.6" y="123.8" fill="#e0609a" style="font-size:13.5px">59.558</text>
<text x="110.6" y="123.8" fill="#3fbfc9" style="font-size:13.5px">MA10:</text>
<text x="156.9" y="123.8" fill="#3fbfc9" style="font-size:13.5px">59.824</text>
<text x="209.5" y="123.8" fill="#a65cc6" style="font-size:13.5px">MA20:</text>
<text x="256.0" y="123.8" fill="#a65cc6" style="font-size:13.5px">59.929</text>
<text x="18.9" y="528.5" fill="#e04a4a" style="font-size:12.8px">MACD:</text>
<text x="60.9" y="528.5" fill="#e04a4a" style="font-size:12.8px">0.000</text>
<text x="103.9" y="528.5" fill="#5a9ee0" style="font-size:12.8px">DIFF:</text>
<text x="134.5" y="528.5" fill="#5a9ee0" style="font-size:12.8px">0.000</text>
<text x="177.0" y="528.5" fill="#f08030" style="font-size:12.8px">DEA:</text>
<text x="206.3" y="528.5" fill="#f08030" style="font-size:12.8px">0.000</text>
</svg>
<div class="t" id="title">K线图</div>
<div class="t" id="more">基本面分析&gt;</div>
<div class="tab" style="left:8px;color:#fff;">日</div><div class="tab" style="left:78px;">周</div><div class="tab" style="left:148px;">月</div><div class="tab" style="left:218px;">5分</div><div class="tab" style="left:288px;">15分</div><div class="tab" style="left:358px;">30分</div><div class="tab" style="left:428px;">60分</div><div class="tab" style="left:498px;">4时</div>
</body></html>
